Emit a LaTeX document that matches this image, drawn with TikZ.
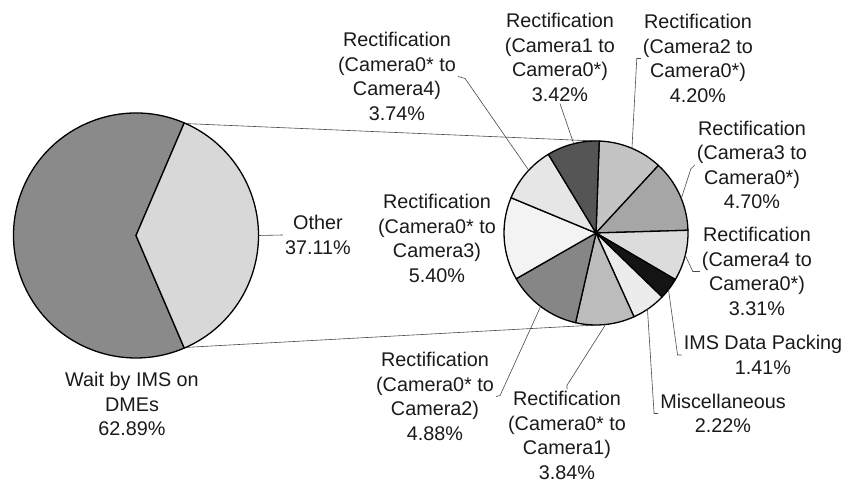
\documentclass[tikz,border=0pt]{standalone}
\usepackage{fontspec}
\setmainfont{Liberation Sans}
\definecolor{textc}{HTML}{1A1A1A}
\definecolor{linec}{HTML}{4A4A4A}
% main pie
\definecolor{waitgray}{HTML}{8A8A8A}
\definecolor{othergray}{HTML}{D8D8D8}
% breakdown pie
\definecolor{camtwo}{HTML}{C4C4C4}
\definecolor{camthree}{HTML}{A6A6A6}
\definecolor{camfour}{HTML}{DCDCDC}
\definecolor{imspack}{HTML}{141414}
\definecolor{misc}{HTML}{ECECEC}
\definecolor{tocamone}{HTML}{BCBCBC}
\definecolor{tocamtwo}{HTML}{868686}
\definecolor{tocamthree}{HTML}{F3F3F3}
\definecolor{tocamfour}{HTML}{E6E6E6}
\definecolor{camone}{HTML}{555555}
\begin{document}
\begin{tikzpicture}[x=1pt,y=1pt,
  lbl/.style={align=center, font=\fontsize{19.8}{24.5}\selectfont, text=textc, inner sep=2pt},
  leader/.style={draw=linec, line width=0.6pt},
  slice/.style={draw=black, line width=1.3pt, line join=round},
  pieframe/.style={circle, inner sep=0pt, outer sep=0pt}]
\useasboundingbox (0,0) rectangle (850,486);
\fill[white] (0,0) rectangle (850,486);

\node[pieframe, minimum size=245pt] (bigpie) at (136,250.5) {};
\node[pieframe, minimum size=184pt] (smallpie) at (596,253) {};

% series lines joining the two pies
\draw[leader] (bigpie.66.8) -- (smallpie.90);
\draw[leader] (bigpie.-66.8) -- (smallpie.-90);

% main pie
\filldraw[slice, fill=waitgray] (bigpie.center) -- ([shift={(bigpie.center)}]66.8:122.5)
  arc[start angle=66.8, end angle=293.2, radius=122.5] -- cycle;
\filldraw[slice, fill=othergray] (bigpie.center) -- ([shift={(bigpie.center)}]-66.8:122.5)
  arc[start angle=-66.8, end angle=66.8, radius=122.5] -- cycle;

% breakdown of "Other", clockwise from the top
\foreach \a/\b/\c in {88/47.27/camtwo, 47.27/1.69/camthree, 1.69/-30.41/camfour,
  -30.41/-44.08/imspack, -44.08/-65.61/misc, -65.61/-102.85/tocamone,
  -102.85/-150.18/tocamtwo, -150.18/-202.55/tocamthree, -202.55/-238.82/tocamfour,
  -238.82/-272/camone}
  \filldraw[slice, fill=\c] (smallpie.center) -- ([shift={(smallpie.center)}]\a:92)
    arc[start angle=\a, end angle=\b, radius=92] -- cycle;

% labels
\node[lbl] (lwait) at (132,82) {Wait by IMS on\\DMEs\\62.89\%};
\node[lbl] (lother) at (318,251) {Other\\37.11\%};
\node[lbl] (lfour) at (397,409.5) {Rectification\\(Camera0* to\\Camera4)\\3.74\%};
\node[lbl] (lone) at (560,428.5) {Rectification\\(Camera1 to\\Camera0*)\\3.42\%};
\node[lbl] (ltwo) at (698,427.5) {Rectification\\(Camera2 to\\Camera0*)\\4.20\%};
\node[lbl] (lthree) at (752,321) {Rectification\\(Camera3 to\\Camera0*)\\4.70\%};
\node[lbl] (lcfour) at (757,214.5) {Rectification\\(Camera4 to\\Camera0*)\\3.31\%};
\node[lbl] (lims) at (763,131) {IMS Data Packing\\1.41\%};
\node[lbl] (lmisc) at (723,72.5) {Miscellaneous\\2.22\%};
\node[lbl] (ltoone) at (567,50.5) {Rectification\\(Camera0* to\\Camera1)\\3.84\%};
\node[lbl] (ltotwo) at (435,89.5) {Rectification\\(Camera0* to\\Camera2)\\4.88\%};
\node[lbl] (ltothree) at (437,247.5) {Rectification\\(Camera0* to\\Camera3)\\5.40\%};

% leader lines
\draw[leader] (lother.west) -- (bigpie.0);
\draw[leader] (lfour.east) -- ++(7,-2) -- (smallpie.137);
\draw[leader] (lone.south) -- (smallpie.104);
\draw[leader] (ltwo.west) -- ++(-4,0) -- (smallpie.67);
\draw[leader] (lthree.west) -- ++(-4,-4) -- (smallpie.22);
\draw[leader] (lcfour.west) -- ++(-7,0) -- (smallpie.-14.5);
\draw[leader] (lims.west) -- ++(-4,0) -- (smallpie.-38);
\draw[leader] (lmisc.west) -- ++(-4,0) -- (smallpie.-56);
\draw[leader] (ltoone.north) -- ++(0,4) -- (smallpie.-84);
\draw[leader] (ltotwo.east) -- ++(4,1) -- (smallpie.-127);
\end{tikzpicture}
\end{document}
